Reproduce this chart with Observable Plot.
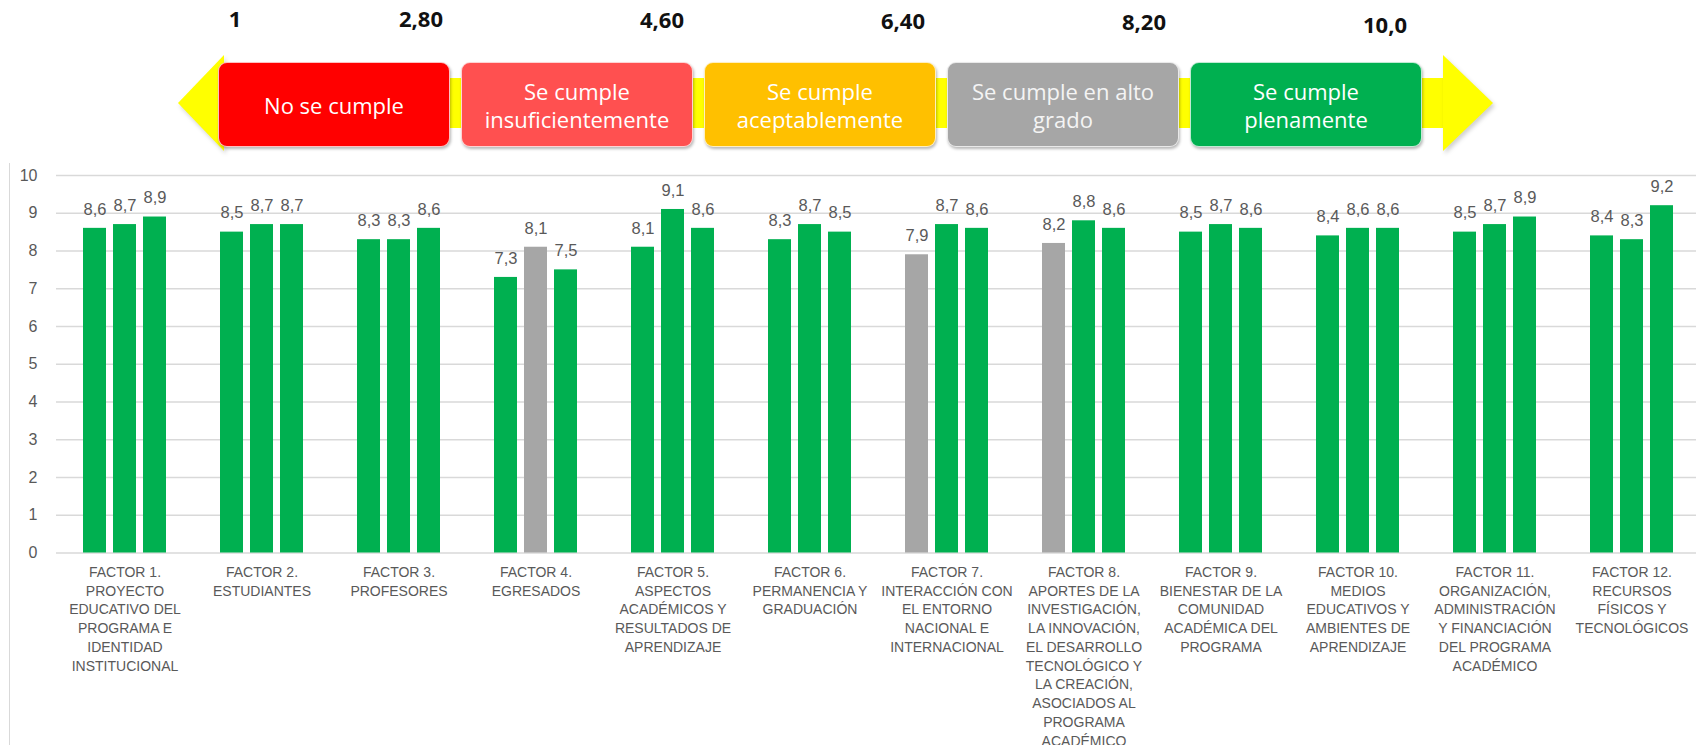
<!DOCTYPE html>
<html>
<head>
<meta charset="utf-8">
<script src="https://cdn.jsdelivr.net/npm/d3@7"></script>
<script src="https://cdn.jsdelivr.net/npm/@observablehq/plot@0.6"></script>
<style>
  html, body { margin: 0; padding: 0; background: #fff; }
  #page { position: relative; width: 1696px; height: 745px; overflow: hidden; background: #fff; }
  #chartbg { position: absolute; left: 9px; top: 163px; width: 1687px; height: 582px; background: #fff; border-left: 1.5px solid #d9d9d9; }
  #plot { position: absolute; left: 0; top: 0; }
  #legend { position: absolute; left: 0; top: 0; width: 1696px; height: 160px; }
  .shaft { position: absolute; left: 222px; top: 78px; width: 1224px; height: 50px; background: #ffff00; }
  .headL { position: absolute; left: 178px; top: 55px; width: 0; height: 0;
    border-top: 48px solid transparent; border-bottom: 48px solid transparent; border-right: 46px solid #ffff00;
    filter: drop-shadow(2px 3px 2px rgba(0,0,0,0.18)); }
  .headR { position: absolute; left: 1443px; top: 55px; width: 0; height: 0;
    border-top: 48px solid transparent; border-bottom: 48px solid transparent; border-left: 50px solid #ffff00;
    filter: drop-shadow(2px 3px 2px rgba(0,0,0,0.18)); }
  .boxes { position: absolute; left: 218px; top: 62px; display: flex; gap: 11px; }
  .box { position: relative; width: 232px; height: 85px; border-radius: 9px; box-sizing: border-box;
    border: 1.5px solid rgba(255,255,255,0.75); box-shadow: 1px 2px 3px rgba(0,0,0,0.28);
    display: flex; align-items: center; justify-content: center; text-align: center;
    font-family: "Open Sans", sans-serif; font-size: 22px; line-height: 28px; color: #fff; }
  .num { position: absolute; top: 5px; transform: translateX(-50%);
    font-family: "Open Sans", sans-serif; font-weight: 700; font-size: 22px; color: #111; white-space: nowrap; }
</style>
</head>
<body>
<div id="page">
  <div id="chartbg"></div>
  <div id="plot"></div>
  <div id="legend">
    <div class="shaft"></div>
    <div class="headL"></div>
    <div class="headR"></div>
    <div class="boxes" id="boxes"></div>
  </div>
</div>
<script>
// ---- Data ----
const nivelLabels = ["No se cumple", "Se cumple\ninsuficientemente", "Se cumple\naceptablemente", "Se cumple en alto\ngrado", "Se cumple\nplenamente"];
const nivelKeys = ["No se cumple", "Se cumple insuficientemente", "Se cumple aceptablemente", "Se cumple en alto grado", "Se cumple plenamente"];
const nivelColors = ["#ff0000", "#ff5050", "#ffc000", "#a6a6a6", "#00b050"];
const umbrales = ["1", "2,80", "4,60", "6,40", "8,20", "10,0"];

const factores = [
  "FACTOR 1.\nPROYECTO\nEDUCATIVO DEL\nPROGRAMA E\nIDENTIDAD\nINSTITUCIONAL",
  "FACTOR 2.\nESTUDIANTES",
  "FACTOR 3.\nPROFESORES",
  "FACTOR 4.\nEGRESADOS",
  "FACTOR 5.\nASPECTOS\nACADÉMICOS Y\nRESULTADOS DE\nAPRENDIZAJE",
  "FACTOR 6.\nPERMANENCIA Y\nGRADUACIÓN",
  "FACTOR 7.\nINTERACCIÓN CON\nEL ENTORNO\nNACIONAL E\nINTERNACIONAL",
  "FACTOR 8.\nAPORTES DE LA\nINVESTIGACIÓN,\nLA INNOVACIÓN,\nEL DESARROLLO\nTECNOLÓGICO Y\nLA CREACIÓN,\nASOCIADOS AL\nPROGRAMA\nACADÉMICO",
  "FACTOR 9.\nBIENESTAR DE LA\nCOMUNIDAD\nACADÉMICA DEL\nPROGRAMA",
  "FACTOR 10.\nMEDIOS\nEDUCATIVOS Y\nAMBIENTES DE\nAPRENDIZAJE",
  "FACTOR 11.\nORGANIZACIÓN,\nADMINISTRACIÓN\nY FINANCIACIÓN\nDEL PROGRAMA\nACADÉMICO",
  "FACTOR 12.\nRECURSOS\nFÍSICOS Y\nTECNOLÓGICOS"
];
const series = ["1", "2", "3"];
const valores1 = [8.6, 8.5, 8.3, 7.3, 8.1, 8.3, 7.9, 8.2, 8.5, 8.4, 8.5, 8.4];
const valores2 = [8.7, 8.7, 8.3, 8.1, 9.1, 8.7, 8.7, 8.8, 8.7, 8.6, 8.7, 8.3];
const valores3 = [8.9, 8.7, 8.6, 7.5, 8.6, 8.5, 8.6, 8.6, 8.6, 8.6, 8.9, 9.2];
const P = "Se cumple plenamente", A = "Se cumple en alto grado";
const niveles1 = [P, P, P, P, P, P, A, A, P, P, P, P];
const niveles2 = [P, P, P, A, P, P, P, P, P, P, P, P];
const niveles3 = [P, P, P, P, P, P, P, P, P, P, P, P];
const yTicks = [0, 1, 2, 3, 4, 5, 6, 7, 8, 9, 10];

// ---- Legend ----
const boxesEl = document.getElementById("boxes");
nivelLabels.forEach((lab, i) => {
  const b = document.createElement("div");
  b.className = "box";
  b.style.background = nivelColors[i];
  if (i === 3) b.style.color = "#f4f4f4";
  b.innerHTML = lab.split("\n").join("<br>");
  if (i === 0) {
    const n0 = document.createElement("div");
    n0.className = "num"; n0.style.left = "16px"; n0.style.top = "-59px";
    n0.textContent = umbrales[0];
    b.appendChild(n0);
  }
  const n = document.createElement("div");
  n.className = "num";
  n.style.left = (232 - 30 - i * 2) + "px";
  n.style.top = (i === 4 ? -53 : -59 + i) + "px";
  n.textContent = umbrales[i + 1];
  b.appendChild(n);
  boxesEl.appendChild(b);
});

// ---- Chart ----
const rows = [];
factores.forEach((f, i) => {
  rows.push({factor: f, serie: series[0], valor: valores1[i], nivel: niveles1[i]});
  rows.push({factor: f, serie: series[1], valor: valores2[i], nivel: niveles2[i]});
  rows.push({factor: f, serie: series[2], valor: valores3[i], nivel: niveles3[i]});
});
const fmt = v => v.toFixed(1).replace(".", ",");

const chart = Plot.plot({
  width: 1696,
  height: 745,
  marginTop: 175,
  marginBottom: 192.5,
  marginLeft: 51,
  marginRight: -8,
  style: {background: "transparent", fontFamily: "'Liberation Sans', Arial, sans-serif", overflow: "visible"},
  fx: {domain: factores, padding: 0, axis: null, label: null},
  x: {domain: series, paddingInner: 0.227, paddingOuter: 0.87, axis: null, label: null},
  y: {domain: [0, 10], label: null, axis: null},
  color: {domain: nivelKeys, range: nivelColors},
  marks: [
    Plot.gridY(yTicks, {stroke: "#d9d9d9", strokeOpacity: 1, strokeWidth: 1.3}),
    Plot.axisY(yTicks, {tickSize: 0, tickPadding: 19, fontSize: 16, fill: "#595959", label: null, facetAnchor: "left"}),
    Plot.barY(rows, {fx: "factor", x: "serie", y: "valor", fill: "nivel"}),
    Plot.text(rows, {fx: "factor", x: "serie", y: "valor", text: d => fmt(d.valor), dy: -19, fontSize: 16.5, fill: "#595959"}),
    Plot.text(factores, {fx: d => d, text: d => d, frameAnchor: "bottom", lineAnchor: "top", dy: 10.5, lineHeight: 1.34, fontSize: 14, fill: "#595959"})
  ]
});
document.getElementById("plot").appendChild(chart);
</script>
</body>
</html>
